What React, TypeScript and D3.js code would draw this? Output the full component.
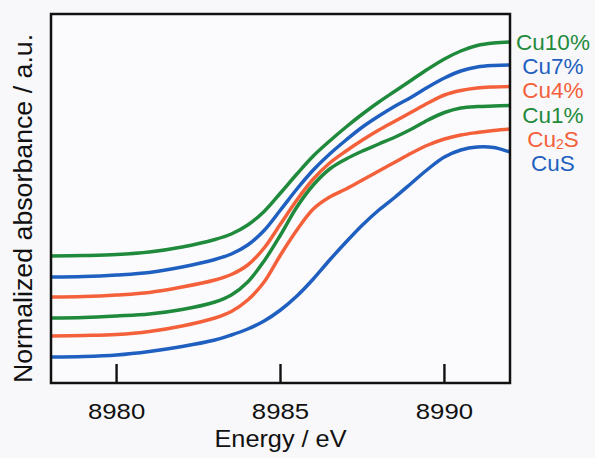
import * as d3 from 'd3'

const W = 595
const H = 458
const MARGIN = { top: 14, right: 85, bottom: 75, left: 51 }

const FONT = 'Liberation Sans, Arial, Helvetica, sans-serif'

// energy grid (eV) shared by all spectra
const energies = [
  8978, 8979, 8980, 8981, 8982, 8983, 8983.5, 8984, 8984.5, 8985, 8985.5, 8986,
  8986.5, 8987, 8987.5, 8988, 8988.5, 8989, 8989.5, 8990, 8990.5, 8991, 8991.5, 8992,
]

// normalized absorbance, vertically offset (a.u.)
const cu10 = [1.27, 1.275, 1.285, 1.31, 1.36, 1.435, 1.49, 1.58, 1.715, 1.9, 2.09, 2.27, 2.42, 2.56, 2.69, 2.81, 2.92, 3.03, 3.14, 3.24, 3.32, 3.375, 3.4, 3.41]
const cu7 = [1.06, 1.065, 1.08, 1.105, 1.16, 1.235, 1.29, 1.38, 1.525, 1.73, 1.94, 2.13, 2.29, 2.43, 2.56, 2.67, 2.77, 2.86, 2.96, 3.05, 3.12, 3.16, 3.175, 3.18]
const cu4 = [0.86, 0.865, 0.88, 0.905, 0.96, 1.03, 1.085, 1.18, 1.35, 1.59, 1.83, 2.04, 2.2, 2.32, 2.43, 2.53, 2.62, 2.71, 2.8, 2.88, 2.925, 2.95, 2.96, 2.965]
const cu1 = [0.65, 0.655, 0.67, 0.69, 0.735, 0.81, 0.88, 1.01, 1.22, 1.48, 1.76, 1.98, 2.14, 2.24, 2.32, 2.39, 2.46, 2.54, 2.63, 2.705, 2.75, 2.765, 2.77, 2.775]
const cu2s = [0.47, 0.475, 0.485, 0.515, 0.57, 0.65, 0.715, 0.83, 1.01, 1.28, 1.53, 1.74, 1.86, 1.94, 2.03, 2.12, 2.21, 2.3, 2.38, 2.44, 2.48, 2.505, 2.525, 2.54]
const cus = [0.26, 0.265, 0.28, 0.315, 0.365, 0.43, 0.48, 0.54, 0.62, 0.73, 0.87, 1.04, 1.23, 1.41, 1.58, 1.73, 1.86, 2.0, 2.14, 2.26, 2.33, 2.36, 2.355, 2.31]

const GREEN = '#1f8a3c'
const BLUE = '#1f5fc0'
const ORANGE = '#f4603a'

const series = [
  { name: 'Cu10%', values: cu10, color: GREEN },
  { name: 'Cu7%', values: cu7, color: BLUE },
  { name: 'Cu4%', values: cu4, color: ORANGE },
  { name: 'Cu1%', values: cu1, color: GREEN },
  { name: 'Cu2S', values: cu2s, color: ORANGE },
  { name: 'CuS', values: cus, color: BLUE },
]

const xTicks = [8980, 8985, 8990]

export default function App() {
  const innerW = W - MARGIN.left - MARGIN.right
  const innerH = H - MARGIN.top - MARGIN.bottom

  const x = d3.scaleLinear().domain([8978, 8992]).range([0, innerW])
  const y = d3.scaleLinear().domain([0, 3.69]).range([innerH, 0])

  const line = d3.line<number>()
    .x((_, i) => x(energies[i]))
    .y(v => y(v))
    .curve(d3.curveCatmullRom.alpha(0.5))

  const legendX = innerW + 43
  const legendY0 = 36
  const legendStep = 24.2

  return (
    <svg width={W} height={H} style={{ position: 'absolute', left: 0, top: 0, background: '#f8f8fa' }}>
      <g transform={`translate(${MARGIN.left},${MARGIN.top})`} fontFamily={FONT}>
        <rect width={innerW} height={innerH} fill="#fbfbfd" />

        <defs>
          <clipPath id="plot-clip">
            <rect width={innerW} height={innerH} />
          </clipPath>
        </defs>

        <g clipPath="url(#plot-clip)">
          {series.map(s => (
            <path key={s.name} d={line(s.values) ?? ''} fill="none" stroke={s.color}
              strokeWidth={3.5} strokeLinejoin="round" strokeLinecap="round" />
          ))}
        </g>

        {/* inward ticks on the bottom axis */}
        {xTicks.map(t => (
          <g key={t}>
            <line x1={x(t)} x2={x(t)} y1={innerH} y2={innerH - 19} stroke="#111" strokeWidth={2.4} />
            <g transform={`translate(${x(t)},${innerH + 36}) scale(1.12,1)`}>
              <text textAnchor="middle" fontSize={23} fill="#111">{t}</text>
            </g>
          </g>
        ))}

        <rect width={innerW} height={innerH} fill="none" stroke="#111" strokeWidth={2.5} />

        <g transform={`translate(${innerW / 2},${innerH + 64}) scale(1.1,1)`}>
          <text textAnchor="middle" fontSize={23} fill="#111">Energy / eV</text>
        </g>

        <g transform={`translate(-19,${innerH / 2 + 10}) rotate(-90) scale(1.07,1)`}>
          <text textAnchor="middle" fontSize={25} fill="#111">Normalized absorbance / a.u.</text>
        </g>

        {series.map((s, i) => (
          <text key={s.name} x={legendX} y={legendY0 + i * legendStep} textAnchor="middle"
            fontSize={22.5} fill={s.color}>
            {s.name === 'Cu2S'
              ? <>Cu<tspan fontSize={14} dy={2}>2</tspan><tspan dy={-2}>S</tspan></>
              : s.name}
          </text>
        ))}
      </g>
    </svg>
  )
}
